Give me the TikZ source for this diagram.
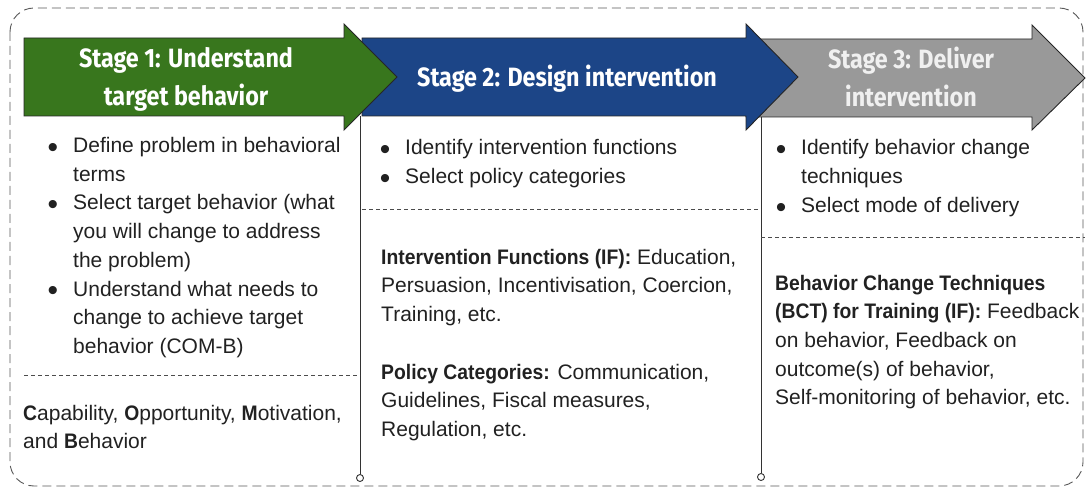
\documentclass[tikz,border=0pt]{standalone}
\usepackage{fontspec}
\setmainfont{Liberation Sans}[BoldFeatures={FakeStretch=0.92}]
\newfontfamily\headfont[FakeStretch=0.88]{Fira Sans}
\definecolor{stgreen}{HTML}{38761D}
\definecolor{stblue}{HTML}{1C4587}
\definecolor{stgray}{HTML}{999999}
\definecolor{txt}{HTML}{212121}
\newcommand{\bigbul}{\raisebox{-4.5pt}{\fontsize{30}{30}\selectfont\textbullet}}
\begin{document}
\begin{tikzpicture}[x=1pt,y=-1pt,
  arrowshape/.style={draw=black!85,line width=0.9pt,line join=miter},
  headtxt/.style={text=white,align=center,font=\headfont\bfseries\fontsize{26.5}{38}\selectfont,inner sep=0pt},
  bodytxt/.style={text=txt,align=left,anchor=base west,inner sep=0pt,font=\fontsize{21}{28.7}\selectfont},
  bul/.style={text=txt,anchor=base,inner sep=0pt,font=\fontsize{21}{28.7}\selectfont},
  sep/.style={draw=black!70,line width=0.8pt,dash pattern=on 4pt off 3pt},
  vline/.style={draw=black!80,line width=0.9pt},
  endpt/.style={circle,draw=black!80,line width=0.9pt,fill=white,inner sep=0pt,minimum size=7pt}]
\useasboundingbox (0,0) rectangle (1087,489);
% outer dashed frame
\draw[draw=black!65,line width=0.9pt,dash pattern=on 9pt off 5pt,rounded corners=24] (10,8) rectangle (1083,486);
% arrows
\path[arrowshape,fill=stgray] (746,39) -- (1032,39) -- (1032,25) -- (1085,78) -- (1032,130) -- (1032,117) -- (746,117) -- cycle;
\path[arrowshape,fill=stblue] (362,38) -- (746,38) -- (746,24) -- (798,77) -- (746,130) -- (746,116) -- (362,116) -- cycle;
\path[arrowshape,fill=stgreen] (24,38) -- (344,38) -- (344,24) -- (397,77) -- (344,130) -- (344,116) -- (24,116) -- cycle;
\node[headtxt] (s1) at (186,79) {Stage 1: Understand\\target behavior};
\node[headtxt] (s2) at (567,79) {Stage 2: Design intervention};
\node[headtxt,text=white!94!black] (s3) at (911,77) {Stage 3: Deliver\\intervention};
% vertical lines
\coordinate (v1top) at (360,116);
\node[endpt] (v1bot) at (360,478) {};
\draw[vline] (v1top) -- (v1bot);
\coordinate (v2top) at (761,117);
\node[endpt] (v2bot) at (761,477) {};
\draw[vline] (v2top) -- (v2bot);
% separators
\coordinate (d1a) at (24,375); \coordinate (d1b) at (360,375);
\draw[sep] (d1a) -- (d1b);
\coordinate (d2a) at (362,209); \coordinate (d2b) at (761,209);
\draw[sep] (d2a) -- (d2b);
\coordinate (d3a) at (761,237); \coordinate (d3b) at (1085,237);
\draw[sep] (d3a) -- (d3b);
% column 1 (node base = baseline of last line)
\node[bul] (b11) at (53,153) {\bigbul};
\node[bodytxt] (t11) at (73,181.7) {Define problem in behavioral\\terms};
\node[bul] (b12) at (53,210) {\bigbul};
\node[bodytxt] (t12) at (73,267.4) {Select target behavior (what\\you will change to address\\the problem)};
\node[bul] (b13) at (53,296) {\bigbul};
\node[bodytxt] (t13) at (73,353.4) {Understand what needs to\\change to achieve target\\behavior (COM-B)};
\node[bodytxt] (t14) at (23,448.7) {\textbf{C}apability, \textbf{O}pportunity, \textbf{M}otivation,\\and \textbf{B}ehavior};
% column 2
\node[bul] (b21) at (385,155) {\bigbul};
\node[bodytxt] (t21) at (405,155) {Identify intervention functions};
\node[bul] (b22) at (385,184) {\bigbul};
\node[bodytxt] (t22) at (405,184) {Select policy categories};
\node[bodytxt] (t23) at (381,321.4) {\textbf{Intervention Functions (IF):} Education,\\Persuasion, Incentivisation, Coercion,\\Training, etc.};
\node[bodytxt] (t24) at (381,436.4) {\textbf{Policy Categories:} Communication,\\Guidelines, Fiscal measures,\\Regulation, etc.};
% column 3
\node[bul] (b31) at (781,155) {\bigbul};
\node[bodytxt] (t31) at (801,183.7) {Identify behavior change\\techniques};
\node[bul] (b32) at (781,213) {\bigbul};
\node[bodytxt] (t32) at (801,213) {Select mode of delivery};
\node[bodytxt] (t33) at (775,404.8) {\textbf{Behavior Change Techniques}\\\textbf{(BCT) for Training (IF):} Feedback\\on behavior, Feedback on\\outcome(s) of behavior,\\Self-monitoring of behavior, etc.};
\end{tikzpicture}
\end{document}
